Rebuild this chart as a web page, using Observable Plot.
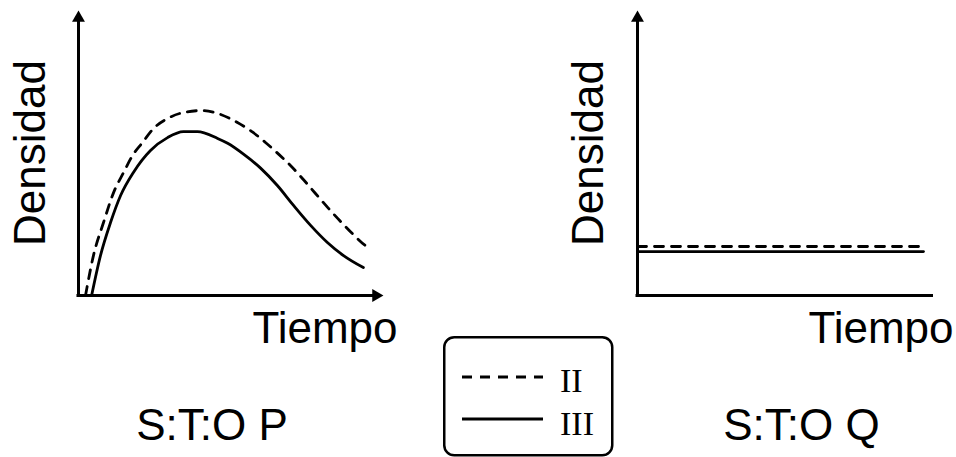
<!DOCTYPE html>
<html><head><meta charset="utf-8">
<script src="https://cdn.jsdelivr.net/npm/d3@7"></script>
<script src="https://cdn.jsdelivr.net/npm/@observablehq/plot@0.6"></script>
<style>
html,body{margin:0;padding:0;background:#fff;}
#chart{position:relative;width:956px;height:457px;overflow:hidden;background:#fff;font-family:"Liberation Sans",Arial,sans-serif;}
#left{position:absolute;left:0;top:0;}
#right{position:absolute;left:560px;top:0;}
#legend{position:absolute;left:443px;top:336px;}
</style></head><body>
<div id="chart"><div id="left"></div><div id="right"></div><div id="legend"></div></div>
<script>
// ---- data ----
const seriesNames = ["II", "III"];
const panelTitles = ["S:T:O P", "S:T:O Q"];
const yLabel = "Densidad";
const xLabel = "Tiempo";

// Panel P (curves)
const tiempoII    = [0.23,0.49,0.82,1.15,1.48,1.77,2.10,2.46,2.92,3.44,4.07,4.56,5.21,5.70,6.13,6.56,6.95,7.38,7.77,8.16,8.52,8.98,9.41,9.51];
const densidadII  = [0.00,1.40,2.56,3.61,4.32,4.91,5.37,5.86,6.21,6.42,6.49,6.39,6.07,5.74,5.37,4.96,4.56,4.06,3.58,3.10,2.68,2.17,1.75,1.68];
const tiempoIII   = [0.43,0.72,1.05,1.38,1.80,2.36,2.92,3.44,3.90,4.56,4.89,5.41,5.97,6.52,7.05,7.61,8.16,8.69,9.34];
const densidadIII = [0.00,1.40,2.56,3.51,4.32,5.09,5.54,5.75,5.75,5.51,5.34,4.96,4.47,3.86,3.16,2.46,1.86,1.40,0.98];

// Panel Q (constant levels)
const tiempoQII    = [0, 9.73];
const densidadQII  = [1.72, 1.72];
const tiempoQIII   = [0, 9.66];
const densidadQIII = [1.54, 1.54];

const xDomain = [0, 10];
const yDomain = [0, 10];

// ---- helpers ----
const rows = (xs, ys, s) => xs.map((t, i) => ({serie: s, tiempo: t, densidad: ys[i]}));
const FONT = "'Liberation Sans', Arial, sans-serif";

function panel({data, width, marginLeft, marginRight, title, titleDx, yLabelDx, xLabelDx, xArrow}) {
  const [dII, dIII] = data;
  const marks = [
    Plot.ruleX([xDomain[0]], {y1: yDomain[0], y2: yDomain[1] * 0.965, stroke: "#000", strokeWidth: 3}),
    Plot.ruleY([yDomain[0]], {x1: xDomain[0] - 0.05, x2: xArrow ? xDomain[1] * 0.97 : xDomain[1], stroke: "#000", strokeWidth: 3}),
    Plot.dot([yDomain[1]], {x: () => xDomain[0], y: d => d, symbol: "triangle", r: 4.8, fill: "#000", stroke: null, dy: 7.5}),
    Plot.line(dII, {x: "tiempo", y: "densidad", stroke: "#000", strokeWidth: 2.8, strokeDasharray: "9,8", curve: "monotone-x"}),
    Plot.line(dIII, {x: "tiempo", y: "densidad", stroke: "#000", strokeWidth: 2.8, curve: "monotone-x"}),
    Plot.text([yLabel], {frameAnchor: "left", textAnchor: "middle", rotate: -90, dx: yLabelDx, fontSize: 44, fill: "#000"}),
    Plot.text([xLabel], {frameAnchor: "bottom-right", textAnchor: "end", dx: xLabelDx, dy: 47, fontSize: 44, fill: "#000"}),
    Plot.text([title], {frameAnchor: "bottom", textAnchor: "middle", dx: titleDx, dy: 144, fontSize: 44, fill: "#000"})
  ];
  if (xArrow) {
    marks.push(Plot.dot([xDomain[1]], {x: d => d, y: () => yDomain[0], symbol: "triangle", rotate: 90, r: 4.8, fill: "#000", stroke: null, dx: -7.5}));
  }
  return Plot.plot({
    width, height: 457,
    marginLeft, marginRight, marginTop: 10, marginBottom: 162,
    x: {domain: xDomain, axis: null},
    y: {domain: yDomain, axis: null},
    style: {fontFamily: FONT, background: "transparent", overflow: "visible"},
    marks
  });
}

document.getElementById("left").append(panel({
  data: [rows(tiempoII, densidadII, seriesNames[0]), rows(tiempoIII, densidadIII, seriesNames[1])],
  width: 420, marginLeft: 78, marginRight: 37,
  title: panelTitles[0], titleDx: -19, yLabelDx: -48, xLabelDx: 14, xArrow: true
}));

document.getElementById("right").append(panel({
  data: [rows(tiempoQII, densidadQII, seriesNames[0]), rows(tiempoQIII, densidadQIII, seriesNames[1])],
  width: 396, marginLeft: 77, marginRight: 23,
  title: panelTitles[1], titleDx: 16, yLabelDx: -49, xLabelDx: 20, xArrow: false
}));

// ---- legend ----
const lg = d3.select("#legend").append("svg").attr("width", 172).attr("height", 121);
lg.append("rect").attr("x", 1.25).attr("y", 1.25).attr("width", 168).attr("height", 118)
  .attr("rx", 10).attr("fill", "#fff").attr("stroke", "#000").attr("stroke-width", 2.5);
const legendRows = [
  {name: seriesNames[0], dash: "10,8", y: 41, ty: 56},
  {name: seriesNames[1], dash: null, y: 83, ty: 99}
];
for (const r of legendRows) {
  lg.append("line").attr("x1", 19).attr("x2", 100).attr("y1", r.y).attr("y2", r.y)
    .attr("stroke", "#000").attr("stroke-width", 2.8).attr("stroke-dasharray", r.dash);
  lg.append("text").attr("x", 117).attr("y", r.ty).text(r.name)
    .attr("font-family", "'Liberation Serif', 'Times New Roman', serif").attr("font-size", 34).attr("fill", "#000");
}
</script>
</body></html>
